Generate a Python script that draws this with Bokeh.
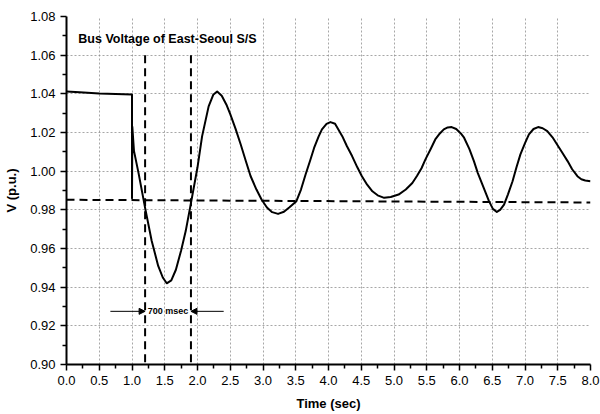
from bokeh.plotting import figure
from bokeh.models import Range1d, FixedTicker, Label, Arrow, NormalHead, NumeralTickFormatter
from bokeh.embed import file_html
from bokeh.resources import INLINE

# ---- data ----
time_s = [0.00, 0.20, 0.50, 1.00, 1.00, 1.005, 1.03, 1.10, 1.20, 1.30, 1.40, 1.47, 1.53, 1.60,
          1.67, 1.75, 1.82, 1.90, 2.00, 2.07, 2.17, 2.24, 2.30, 2.37, 2.44, 2.50, 2.58, 2.66,
          2.74, 2.81, 2.90, 2.98, 3.06, 3.14, 3.23, 3.32, 3.40, 3.51, 3.58, 3.65, 3.72, 3.78,
          3.85, 3.90, 3.97, 4.03, 4.10, 4.21, 4.28, 4.36, 4.44, 4.51, 4.59, 4.67, 4.75, 4.85,
          4.95, 5.07, 5.18, 5.28, 5.35, 5.42, 5.48, 5.56, 5.63, 5.70, 5.76, 5.82, 5.88, 5.95,
          6.02, 6.07, 6.15, 6.22, 6.28, 6.35, 6.45, 6.51, 6.57, 6.62, 6.68, 6.74, 6.81, 6.87,
          6.93, 7.00, 7.06, 7.13, 7.20, 7.27, 7.34, 7.42, 7.49, 7.57, 7.65, 7.72, 7.80, 7.86,
          7.92, 8.00]
voltage_pu = [1.0412, 1.0408, 1.0402, 1.0396, 0.9860, 1.0230, 1.0105, 0.9990, 0.9810, 0.9640,
              0.9510, 0.9450, 0.9420, 0.9435, 0.9490, 0.9590, 0.9690, 0.9835, 1.0020, 1.0180,
              1.0335, 1.0395, 1.0412, 1.0390, 1.0345, 1.0295, 1.0220, 1.0138, 1.0050, 0.9975,
              0.9905, 0.9852, 0.9812, 0.9788, 0.9779, 0.9790, 0.9812, 0.9845, 0.9905, 0.9983,
              1.0055, 1.0120, 1.0180, 1.0216, 1.0245, 1.0254, 1.0245, 1.0181, 1.0130, 1.0078,
              1.0020, 0.9974, 0.9930, 0.9896, 0.9875, 0.9862, 0.9866, 0.9879, 0.9905, 0.9939,
              0.9975, 1.0015, 1.0061, 1.0115, 1.0164, 1.0195, 1.0216, 1.0226, 1.0228, 1.0218,
              1.0195, 1.0173, 1.0115, 1.0052, 0.9990, 0.9931, 0.9845, 0.9805, 0.9789, 0.9800,
              0.9827, 0.9880, 0.9948, 1.0020, 1.0087, 1.0145, 1.0190, 1.0218, 1.0228, 1.0222,
              1.0207, 1.0175, 1.0138, 1.0095, 1.0052, 1.0010, 0.9974, 0.9958, 0.9952, 0.9948]

ref_time = [0.0, 8.0]
ref_voltage = [0.9852, 0.9838]

marker_times = [1.2, 1.9]
marker_top = [1.06, 1.06]
marker_bottom = [0.90, 0.90]

x_ticks = [0.0, 0.5, 1.0, 1.5, 2.0, 2.5, 3.0, 3.5, 4.0, 4.5, 5.0, 5.5, 6.0, 6.5, 7.0, 7.5, 8.0]
x_minor = [0.25, 0.75, 1.25, 1.75, 2.25, 2.75, 3.25, 3.75, 4.25, 4.75, 5.25, 5.75, 6.25,
           6.75, 7.25, 7.75]
y_ticks = [0.90, 0.92, 0.94, 0.96, 0.98, 1.00, 1.02, 1.04, 1.06, 1.08]
y_minor = [0.91, 0.93, 0.95, 0.97, 0.99, 1.01, 1.03, 1.05, 1.07]
x_grid = [0.5, 1.0, 1.5, 2.0, 2.5, 3.0, 3.5, 4.0, 4.5, 5.0, 5.5, 6.0, 6.5, 7.0, 7.5]
y_grid = [0.92, 0.94, 0.96, 0.98, 1.00, 1.02, 1.04, 1.06]

FONT = "Liberation Sans"

p = figure(width=600, height=414, output_backend="svg", toolbar_location=None,
           x_range=Range1d(0, 8), y_range=Range1d(0.90, 1.08),
           min_border_left=66, min_border_right=10, min_border_top=16, min_border_bottom=50)
p.outline_line_color = None
p.background_fill_color = "white"

# grid
for g in (p.xgrid, p.ygrid):
    g.grid_line_color = "#8a8a8a"
    g.grid_line_dash = "2 2"
    g.grid_line_width = 1
    g.grid_line_alpha = 0.75

p.xaxis.ticker = FixedTicker(ticks=x_ticks, minor_ticks=x_minor)
p.yaxis.ticker = FixedTicker(ticks=y_ticks, minor_ticks=y_minor)
p.xgrid.ticker = FixedTicker(ticks=x_grid)
p.ygrid.ticker = FixedTicker(ticks=y_grid)
p.xaxis.formatter = NumeralTickFormatter(format="0.0")
p.yaxis.formatter = NumeralTickFormatter(format="0.00")

for ax in (p.xaxis, p.yaxis):
    ax.axis_line_color = "black"
    ax.axis_line_width = 2
    ax.major_tick_line_color = "black"
    ax.major_tick_line_width = 1.5
    ax.minor_tick_line_color = "black"
    ax.minor_tick_line_width = 1.5
    ax.major_tick_in = 0
    ax.major_tick_out = 6
    ax.minor_tick_in = 0
    ax.minor_tick_out = 4
    ax.major_label_text_font = FONT
    ax.major_label_text_font_size = "13px"
    ax.major_label_text_color = "black"
    ax.axis_label_text_font = FONT
    ax.axis_label_text_font_style = "bold"
    ax.axis_label_text_font_size = "13px"
    ax.axis_label_text_color = "black"

p.xaxis.axis_label = "Time (sec)"
p.yaxis.axis_label = "V (p.u.)"
p.xaxis.major_label_standoff = 5
p.yaxis.major_label_standoff = 5
p.xaxis.axis_label_standoff = 8
p.yaxis.axis_label_standoff = 8

# reference (dashed horizontal) line
p.line(ref_time, ref_voltage, line_color="black", line_width=2, line_dash="8 5")

# vertical marker lines
p.segment(x0=marker_times, y0=marker_top, x1=marker_times, y1=marker_bottom,
          line_color="black", line_width=2, line_dash="8 5")

# voltage curve
p.line(time_s, voltage_pu, line_color="black", line_width=2, line_join="round")

# title inside plot
p.add_layout(Label(x=0.18, y=1.0684, text="Bus Voltage of East-Seoul S/S",
                   text_font=FONT, text_font_style="bold", text_font_size="12.5px",
                   text_baseline="middle", text_align="left", text_color="black"))

# 700 msec annotation
p.add_layout(Arrow(x_start=0.67, y_start=0.9275, x_end=marker_times[0], y_end=0.9275,
                   line_color="black", line_width=1,
                   end=NormalHead(size=6, fill_color="black", line_color="black")))
p.add_layout(Arrow(x_start=2.4, y_start=0.9275, x_end=marker_times[1], y_end=0.9275,
                   line_color="black", line_width=1,
                   end=NormalHead(size=6, fill_color="black", line_color="black")))
p.add_layout(Label(x=sum(marker_times) / 2, y=0.9275, text="700 msec",
                   text_font=FONT, text_font_style="bold", text_font_size="9px",
                   text_baseline="middle", text_align="center", text_color="black"))

open("out.html", "w").write(file_html(p, INLINE))
